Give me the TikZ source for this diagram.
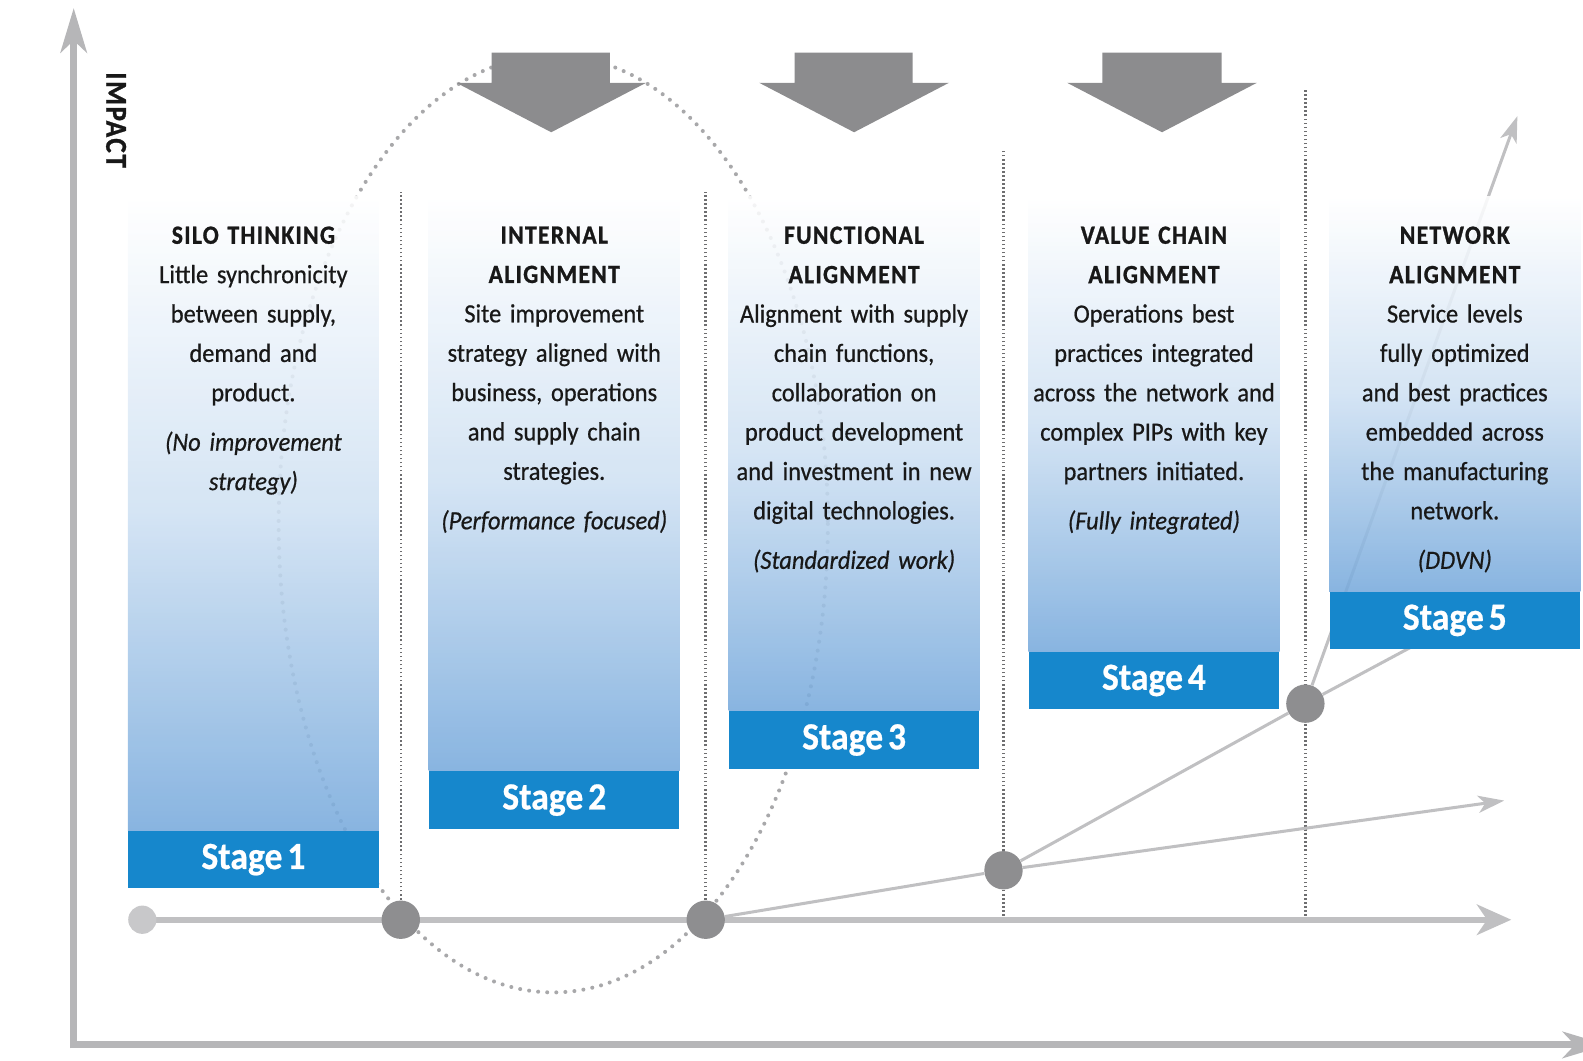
\documentclass[tikz,border=0pt]{standalone}
\usepackage{fontspec}
\setmainfont{Carlito}[FakeStretch=0.93,WordSpace=0.6,FakeBold=0.6]
\newfontfamily\headfont{Carlito}[FakeStretch=0.9,LetterSpace=5,WordSpace=0.6,FakeBold=1]
\usetikzlibrary{arrows.meta}

\newlength{\du}
\setlength{\du}{0.5pt}
\newcommand{\headstyle}{\headfont\bfseries}

\definecolor{axisgrey}{RGB}{182,182,184}
\definecolor{linegrey}{RGB}{192,192,194}
\definecolor{dotgrey}{RGB}{142,142,144}
\definecolor{startgrey}{RGB}{200,200,202}
\definecolor{arrowgrey}{RGB}{140,140,142}
\definecolor{guidegrey}{RGB}{110,110,112}
\definecolor{loopgrey}{RGB}{168,168,170}
\definecolor{stageblue}{RGB}{22,135,204}
\definecolor{paleblue}{RGB}{120,170,220}
\definecolor{inkgrey}{RGB}{24,24,24}

\pgfdeclarelayer{back}
\pgfsetlayers{back,main}

\tikzset{
  axisline/.style={draw=axisgrey,line width=7\du,-{Stealth[length=22pt,width=13pt,inset=6pt]}},
  timeline/.style={draw=linegrey,line width=6\du,-{Stealth[length=17pt,width=15pt,inset=5pt]}},
  thinline/.style={draw=linegrey,line width=3\du},
  thinarrow/.style={thinline,-{Stealth[length=13pt,width=8.5pt,inset=3.5pt]}},
  guide/.style={draw=guidegrey,line width=2.4\du,dash pattern=on 1.6\du off 2.4\du},
  loopline/.style={draw=loopgrey,line width=4\du,line cap=round,dash pattern=on 0\du off 9\du},
  dot/.style={circle,fill=dotgrey,minimum size=38\du,inner sep=0pt},
  startdot/.style={circle,fill=startgrey,minimum size=28\du,inner sep=0pt},
  pushdown/.style={fill=arrowgrey},
  stageshade/.style={top color=white,bottom color=paleblue,middle color=paleblue!36!white,fill opacity=0.88},
  stageband/.style={fill=stageblue,minimum width=248\du,minimum height=57\du,inner sep=0pt,
    text=white,font=\bfseries\fontsize{19}{22}\selectfont},
  stagetext/.style={anchor=north,align=center,text width=246\du,inner sep=0pt,text=inkgrey,
    font=\fontsize{13}{19.5}\selectfont}
}

\begin{document}
\begin{tikzpicture}[x=\du,y=-\du]
\useasboundingbox (0,0) rectangle (1568,1050);

% axes
\coordinate (origin) at (73,1035);
\coordinate (ytip) at (73,8);
\coordinate (xtip) at (1592,1035);
\draw[axisline] (73,1038.5) -- (ytip);
\draw[axisline] (origin) -- (xtip);
\node[rotate=-90,text=inkgrey,font=\headstyle\fontsize{15}{15}\selectfont] (impact) at (115,119) {IMPACT};

% stage points
\node[startdot] (d0) at (141,911) {};
\node[dot] (d1) at (397,911) {};
\node[dot] (d2) at (699,911) {};
\node[dot] (d3) at (994,862) {};
\node[dot] (d4) at (1293,697) {};

\coordinate (top1) at (397,190);
\coordinate (top2) at (699,190);
\coordinate (top3) at (994,150);
\coordinate (foot3) at (994,911);
\coordinate (top4) at (1293,88);
\coordinate (foot4) at (1293,911);
\coordinate (timeend) at (1497,911);
\coordinate (flatend) at (1490,793);
\coordinate (steepend) at (1503,115);
\coordinate (hidden) at (1420,629);

\begin{pgfonlayer}{back}
\draw[loopline] (548,519) ellipse [x radius=272,y radius=464];
\draw[guide] (d1.center) -- (top1);
\draw[guide] (d2.center) -- (top2);
\draw[guide] (foot3) -- (top3);
\draw[guide] (foot4) -- (top4);
\draw[timeline] (d0.center) -- (timeend);
\draw[thinline] (d2) -- (d3);
\draw[thinarrow] (d3) -- (flatend);
\draw[thinline] (d3) -- (d4);
\draw[thinline] (d4) -- (hidden);
\draw[thinarrow] (d4) -- (steepend);

% stage columns
\node[stageband] (band1) at (251,851.5) {Stage 1};
\node[stageband] (band2) at (549,792.5) {Stage 2};
\node[stageband] (band3) at (846,733) {Stage 3};
\node[stageband] (band4) at (1143,674) {Stage 4};
\node[stageband] (band5) at (1441,614.5) {Stage 5};
\shade[stageshade] (band1.north west) rectangle (band1.north east |- 0,195);
\shade[stageshade] (band2.north west) rectangle (band2.north east |- 0,195);
\shade[stageshade] (band3.north west) rectangle (band3.north east |- 0,195);
\shade[stageshade] (band4.north west) rectangle (band4.north east |- 0,195);
\shade[stageshade] (band5.north west) rectangle (band5.north east |- 0,195);
\end{pgfonlayer}

% push arrows
\fill[pushdown] (487,52) -- (604,52) -- (604,82) -- (640,82) -- (546,131) -- (452,82) -- (487,82) -- cycle;
\fill[pushdown] (787,52) -- (904,52) -- (904,82) -- (940,82) -- (846,131) -- (752,82) -- (787,82) -- cycle;
\fill[pushdown] (1092,52) -- (1210,52) -- (1210,82) -- (1245,82) -- (1151,131) -- (1057,82) -- (1092,82) -- cycle;

% column texts
\node[stagetext] (silo) at (251,224) {{\headstyle SILO THINKING}\\
  Little synchronicity\\ between supply,\\ demand and\\ product.\\[10\du]
  \textit{(No improvement}\\ \textit{strategy)}};
\node[stagetext] (internal) at (549,224) {{\headstyle INTERNAL}\\ {\headstyle ALIGNMENT}\\
  Site improvement\\ strategy aligned with\\ business, operations\\ and supply chain\\ strategies.\\[10\du]
  \textit{(Performance focused)}};
\node[stagetext] (functional) at (846,224) {{\headstyle FUNCTIONAL}\\ {\headstyle ALIGNMENT}\\
  Alignment with supply\\ chain functions,\\ collaboration on\\ product development\\
  and investment in new\\ digital technologies.\\[10\du]
  \textit{(Standardized work)}};
\node[stagetext] (valuechain) at (1143,224) {{\headstyle VALUE CHAIN}\\ {\headstyle ALIGNMENT}\\
  Operations best\\ practices integrated\\ across the network and\\ complex PIPs with key\\
  partners initiated.\\[10\du]
  \textit{(Fully integrated)}};
\node[stagetext] (network) at (1441,224) {{\headstyle NETWORK}\\ {\headstyle ALIGNMENT}\\
  Service levels\\ fully optimized\\ and best practices\\ embedded across\\
  the manufacturing\\ network.\\[10\du]
  \textit{(DDVN)}};
\end{tikzpicture}
\end{document}
